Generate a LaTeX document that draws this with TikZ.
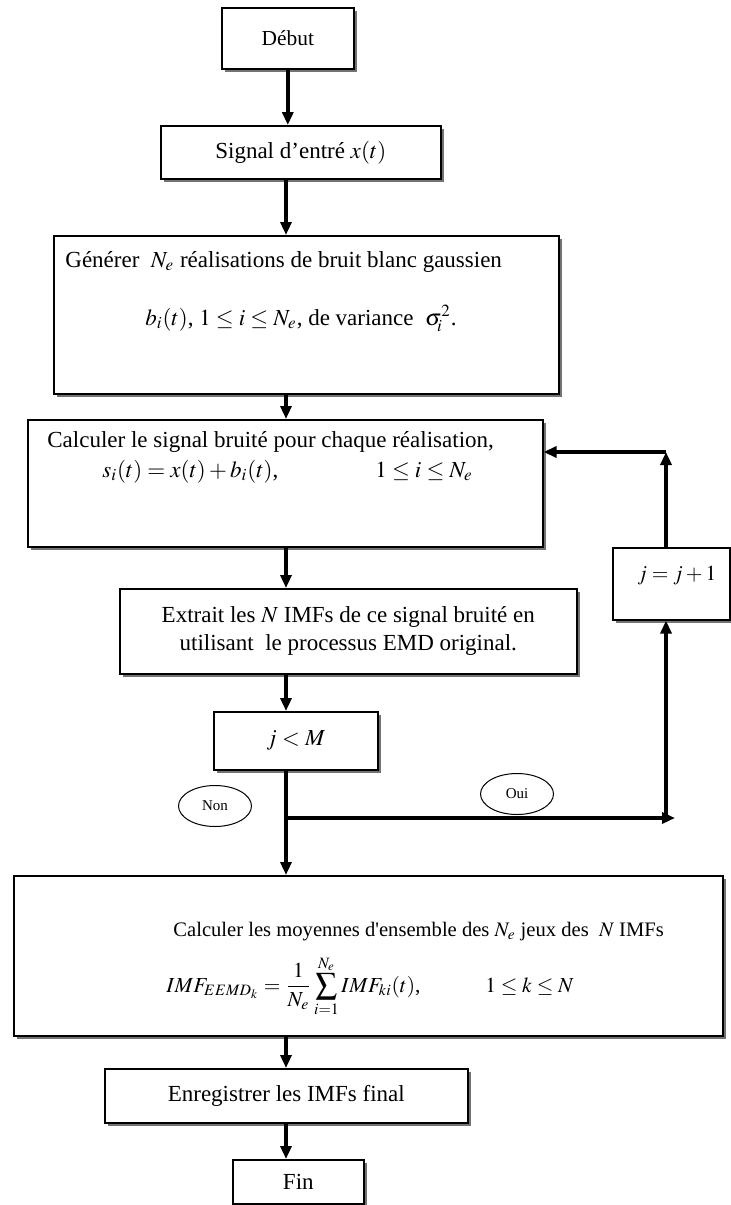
\documentclass[tikz,border=0pt]{standalone}
\usepackage{mathptmx}
\usepackage{fontspec}
\setmainfont{Liberation Serif}
\usetikzlibrary{arrows.meta,positioning,shapes.geometric,shadows}

\begin{document}
\begin{tikzpicture}[
  x=0.5pt, y=-0.5pt,
  font=\fontsize{11.5}{14}\selectfont,
  box/.style={draw, line width=0.8pt, fill=white, anchor=north west, inner sep=0pt, align=center,
    drop shadow={shadow xshift=1.8pt, shadow yshift=-1.8pt, fill=black!55, opacity=1}},
  txt/.style={anchor=base west, inner sep=0pt},
  arr/.style={-{Triangle[length=6.5pt,width=5.5pt]}, line width=1.8pt},
  tag/.style={draw, ellipse, line width=0.5pt, minimum width=36.5pt, minimum height=20.5pt, inner sep=0pt, font=\fontsize{7.5}{9}\selectfont}
]
\useasboundingbox (0,0) rectangle (731,1205);

% main column
\node[box, minimum width=66pt, minimum height=30.5pt] (debut) at (221,7) {\fontsize{10.7}{13}\selectfont Début};
\node[box, minimum width=140pt, minimum height=26.5pt] (signal) at (160,125) {Signal d’entré $x(t)$};

\node[box, minimum width=252.5pt, minimum height=79pt] (generer) at (53,235) {};
\node[txt] (gentxta) at (65,267) {Générer \ $N_e$ réalisations de bruit blanc gaussien};
\node[txt] (gentxtb) at (145,325) {$b_i(t)$, $1\le i\le N_e$, de variance \ $\sigma_{\!i}^2$.};

\node[box, minimum width=257.5pt, minimum height=63.5pt] (calcul) at (27,419) {};
\node[txt] (caltxta) at (47,447) {Calculer le signal bruité pour chaque réalisation,};
\node[txt] (caltxtb) at (102,477) {$s_i(t)=x(t)+b_i(t)$,};
\node[txt] (caltxtc) at (375,477) {$1\le i\le N_e$};

\node[box, minimum width=228.5pt, minimum height=42.5pt] (extrait) at (119,588)
  {Extrait les $N$ IMFs de ce signal bruité en\\utilisant \ le processus EMD original.};
\node[box, minimum width=82pt, minimum height=29pt] (jlt) at (213,711) {$j<M$};

% loop box
\node[box, minimum width=58.5pt, minimum height=36pt] (jinc) at (612,547) {};
\node[txt] (jinctxt) at (637,580) {\fontsize{10.7}{13}\selectfont$j=j+1$};

\node[tag] (non) at (215,806) {Non};
\node[tag] (oui) at (517,794) {Oui};

\node[box, minimum width=354.5pt, minimum height=80pt] (moyenne) at (13,875) {};
\node[txt] (moytxta) at (173,936) {\fontsize{10.3}{13}\selectfont Calculer les moyennes d\textquotesingle ensemble des $N_e$ jeux des \ $N$ IMFs};
\node[txt] (moytxtb) at (166,992) {\fontsize{10.7}{13}\selectfont$\displaystyle IMF_{EEMD_k}=\frac{1}{N_e}\sum_{i=1}^{N_e}IMF_{ki}(t)$,};
\node[txt] (moytxtc) at (485,992) {\fontsize{10.7}{13}\selectfont$1\le k\le N$};

\node[box, minimum width=181.5pt, minimum height=27pt] (enreg) at (104,1068) {Enregistrer les IMFs final};
\node[box, minimum width=65.5pt, minimum height=22pt] (fin) at (232,1159) {Fin};

% connectors
\coordinate (trunk) at (286,0);
\coordinate (fork) at (286,818);
\coordinate (loopfoot) at (666,818);
\coordinate (loophead) at (666,452);

\draw[arr] (debut.south) -- (debut.south |- signal.north);
\draw[arr] (signal.south -| trunk) -- (generer.north -| trunk);
\draw[arr] (generer.south -| trunk) -- (calcul.north -| trunk);
\draw[arr] (calcul.south -| trunk) -- (extrait.north -| trunk);
\draw[arr] (extrait.south -| trunk) -- (jlt.north -| trunk);
\draw[arr] (jlt.south -| trunk) -- (moyenne.north -| trunk);
\draw[arr] (fork) -- ([xshift=4.5pt]loopfoot);
\draw[arr] (loopfoot) -- (loopfoot |- jinc.south);
\draw[arr] (loopfoot |- jinc.north) -- (loophead);
\draw[arr] (loophead) -- (loophead -| calcul.east);
\draw[arr] (moyenne.south -| trunk) -- (enreg.north -| trunk);
\draw[arr] (enreg.south -| trunk) -- (fin.north -| trunk);

\end{tikzpicture}
\end{document}
